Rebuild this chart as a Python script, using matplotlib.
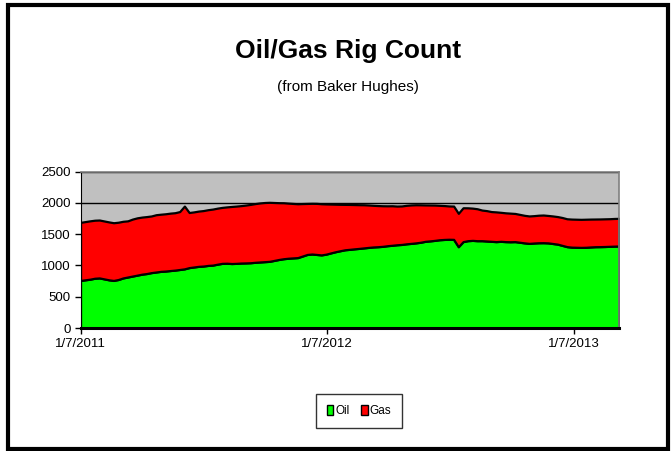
import numpy as np
import pandas as pd
import matplotlib
matplotlib.use("Agg")
import matplotlib.pyplot as plt
import matplotlib.dates as mdates
from matplotlib.patches import Rectangle, Patch

plt.rcParams['font.family'] = ['Liberation Sans', 'DejaVu Sans']

# weekly rig counts (Fridays, 1/7/2011 .. 3/15/2013)
first_week = "2011-01-07"
oil = [760, 770, 780, 795, 800, 785, 770, 760, 775, 800,
       815, 830, 845, 860, 870, 885, 895, 905, 910, 918,
       925, 935, 945, 965, 975, 985, 990, 1000, 1005, 1020,
       1033, 1035, 1030, 1033, 1038, 1040, 1043, 1050, 1055, 1060,
       1065, 1080, 1095, 1107, 1115, 1120, 1125, 1150, 1175, 1182,
       1175, 1168, 1180, 1200, 1219, 1235, 1250, 1257, 1265, 1272,
       1280, 1288, 1295, 1299, 1305, 1315, 1322, 1330, 1335, 1345,
       1352, 1360, 1370, 1385, 1392, 1400, 1410, 1415, 1418, 1416,
       1299, 1380, 1395, 1400, 1395, 1395, 1390, 1385, 1380, 1385,
       1380, 1378, 1380, 1370, 1360, 1352, 1358, 1362, 1363, 1360,
       1350, 1340, 1320, 1300, 1292, 1290, 1288, 1290, 1295, 1299,
       1300, 1302, 1305, 1308, 1310]
gas = [928, 930, 932, 927, 925, 925, 925, 922, 915, 905,
       897, 910, 915, 912, 910, 905, 915, 913, 915, 917,
       917, 925, 1003, 880, 880, 883, 886, 890, 895, 895,
       894, 900, 912, 915, 917, 924, 932, 938, 943, 945,
       943, 925, 907, 894, 880, 870, 860, 838, 815, 810,
       816, 817, 802, 780, 759, 741, 725, 717, 707, 698,
       689, 677, 665, 657, 648, 637, 631, 618, 615, 615,
       614, 609, 598, 581, 573, 564, 550, 541, 532, 532,
       533, 541, 525, 515, 510, 489, 485, 475, 475, 463,
       460, 457, 450, 445, 440, 438, 437, 440, 442, 438,
       440, 440, 445, 445, 448, 448, 448, 448, 445, 442,
       442, 442, 441, 442, 442]
series_names = ["Oil", "Gas"]
colors = ["#00FF00", "#FF0000"]
tick_dates = ["2011-01-07", "2012-01-07", "2013-01-07"]
tick_labels = ["1/7/2011", "1/7/2012", "1/7/2013"]
yticks = [0, 500, 1000, 1500, 2000, 2500]

dates = pd.date_range(first_week, periods=len(oil), freq="7D")

fig = plt.figure(figsize=(6.72, 4.51), dpi=100)
ax = fig.add_axes([0.1198, 0.2727, 0.8012, 0.347])
ax.set_facecolor("#C0C0C0")

ax.stackplot(dates, oil, gas, colors=colors, edgecolor="black",
             linewidth=1.6, zorder=2)

ax.set_xlim(dates[0], dates[-1])
ax.set_ylim(0, 2500)
ax.set_yticks(yticks)
ax.set_xticks(pd.to_datetime(tick_dates))
ax.set_xticklabels(tick_labels)
ax.yaxis.grid(True, color="black", linewidth=1)
ax.set_axisbelow(True)
ax.tick_params(axis="both", direction="out", length=4, width=1,
               color="black", labelsize=9.5, pad=3)

for s in ["top", "right"]:
    ax.spines[s].set_color("#808080")
    ax.spines[s].set_linewidth(1.2)
ax.spines["left"].set_color("black")
ax.spines["bottom"].set_color("black")
ax.spines["bottom"].set_linewidth(2.2)
ax.spines["bottom"].set_zorder(5)

fig.text(0.518, 0.887, "Oil/Gas Rig Count", ha="center", va="center",
         fontsize=19, fontweight="bold")
fig.text(0.518, 0.808, "(from Baker Hughes)", ha="center", va="center",
         fontsize=11)

handles = [Patch(facecolor=c, edgecolor="black", linewidth=1) for c in colors]
leg = fig.legend(handles, series_names, loc="center",
                 bbox_to_anchor=(359 / 672, 1 - 411 / 451), ncol=2,
                 frameon=True, fancybox=False, fontsize=8.5,
                 handlelength=0.55, handleheight=1.0, handletextpad=0.15,
                 columnspacing=1.0, borderpad=0.95, borderaxespad=0)
leg.get_frame().set_edgecolor("black")
leg.get_frame().set_linewidth(1)

# outer chart border
fig.patches.append(Rectangle((0.0125, 0.004), 0.982, 0.985, transform=fig.transFigure,
                             fill=False, edgecolor="black", linewidth=3))

fig.savefig("out.png", dpi=100)
